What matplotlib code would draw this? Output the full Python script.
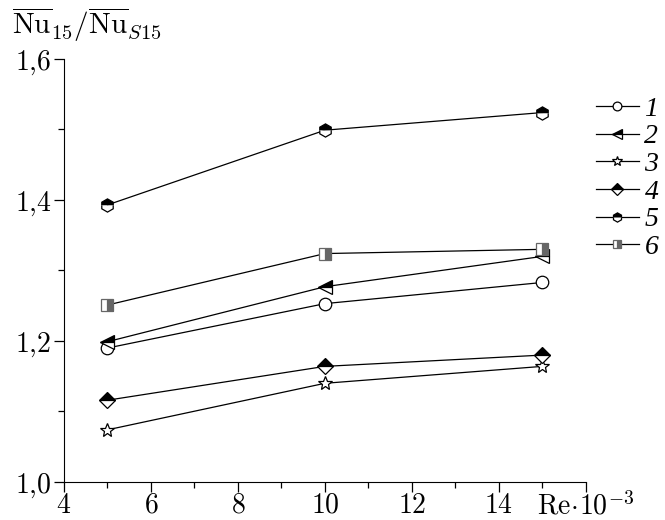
import matplotlib
matplotlib.use("Agg")
import matplotlib.pyplot as plt
from matplotlib.ticker import FixedLocator, FuncFormatter, MultipleLocator

plt.rcParams["mathtext.fontset"] = "cm"
plt.rcParams["font.family"] = "DejaVu Serif"

# ---------------------------------------------------------------------------
# Data
# ---------------------------------------------------------------------------
re_vals = [5, 10, 15]
series_labels = ["1", "2", "3", "4", "5", "6"]
nu_1 = [1.190, 1.253, 1.283]
nu_2 = [1.199, 1.277, 1.320]
nu_3 = [1.074, 1.140, 1.164]
nu_4 = [1.116, 1.164, 1.180]
nu_5 = [1.393, 1.499, 1.524]
nu_6 = [1.251, 1.324, 1.330]

x_ticks = [4, 6, 8, 10, 12, 14, 16]
y_ticks = [1.0, 1.2, 1.4, 1.6]

# marker styles: (marker, size, fillstyle, face colour, edge colour)
styles = [
    ("o", 9, "full", "white", "black"),
    ("<", 10, "top", "black", "black"),
    ("*", 10.5, "full", "white", "black"),
    ("D", 8.5, "top", "black", "black"),
    ("h", 9.5, "top", "black", "black"),
    ("s", 8, "right", "#666666", "#666666"),
]

# ---------------------------------------------------------------------------
# Plot
# ---------------------------------------------------------------------------
fig = plt.figure(figsize=(6.65, 5.2), dpi=100)
ax = fig.add_axes([0.0962, 0.0731, 0.785, 0.8135])

for vals, lab, (mk, ms, fs, fc, ec) in zip(
        [nu_1, nu_2, nu_3, nu_4, nu_5, nu_6], series_labels, styles):
    ax.plot(re_vals, vals, color="black", lw=0.9, marker=mk, ms=ms,
            fillstyle=fs, markerfacecolor=fc, markerfacecoloralt="white",
            markeredgecolor=ec, markeredgewidth=0.9, label=lab)

ax.set_xlim(4, 16)
ax.set_ylim(1.0, 1.6)
ax.spines["top"].set_visible(False)
ax.spines["right"].set_visible(False)

ax.xaxis.set_major_locator(FixedLocator(x_ticks))
ax.xaxis.set_minor_locator(MultipleLocator(1))
ax.yaxis.set_major_locator(FixedLocator(y_ticks))
ax.yaxis.set_minor_locator(MultipleLocator(0.1))


def xfmt(v, pos):
    if abs(v - 16) < 1e-6:
        return r"$\mathrm{Re}\!\cdot\!10^{-3}$"
    return r"$%d$" % v


def yfmt(v, pos):
    return r"$%s$" % ("%.1f" % v).replace(".", "{,}")


ax.xaxis.set_major_formatter(FuncFormatter(xfmt))
ax.yaxis.set_major_formatter(FuncFormatter(yfmt))
ax.tick_params(axis="both", which="major", labelsize=20, length=7,
               width=0.9, direction="out", pad=2)
ax.tick_params(axis="both", which="minor", length=4, width=0.9,
               direction="out")
ax.tick_params(axis="x", which="major", pad=0)

fig.text(0.018, 0.915,
         r"$\overline{\mathrm{Nu}}_{15}/\overline{\mathrm{Nu}}_{S15}$",
         fontsize=21, ha="left", va="bottom")

fig.legend(loc="upper left", bbox_to_anchor=(0.896, 0.815),
           frameon=False, handlelength=1.55,
           prop={"family": "Liberation Serif", "style": "italic", "size": 20},
           handletextpad=0.2, labelspacing=0.08, markerscale=0.7,
           borderpad=0, borderaxespad=0)

fig.savefig("out.png", dpi=100)
